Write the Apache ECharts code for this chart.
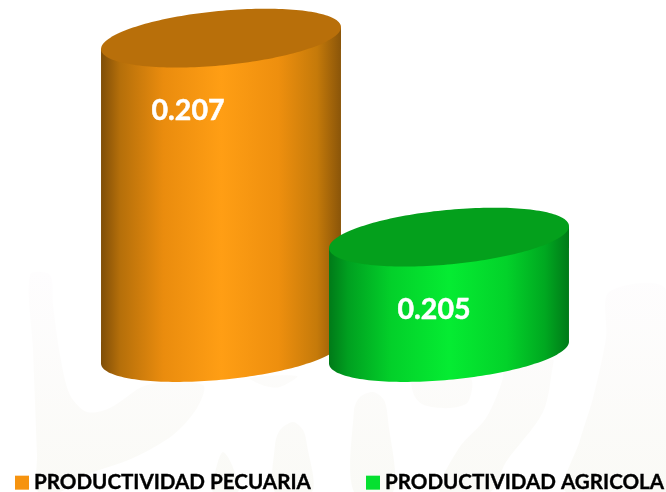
<!DOCTYPE html>
<html>
<head>
<meta charset="utf-8">
<style>html,body{margin:0;padding:0;background:#fff}#c{width:666px;height:492px}</style>
<script src="https://cdn.jsdelivr.net/npm/echarts@6/dist/echarts.min.js"></script>
</head>
<body>
<div id="c"></div>
<script>
const categories = ['PECUARIA', 'AGRICOLA'];
const seriesNames = ['PRODUCTIVIDAD PECUARIA', 'PRODUCTIVIDAD AGRICOLA'];
const seriesValues = [0.207, 0.205];
const axisMin = 0.20384, axisMax = 0.2072;

const FONT = 'Lato, "Open Sans", sans-serif';
const A = 120.5, B = 27.2, TH = -5.5 * Math.PI / 180;
const TR = Math.atan2(-B * Math.sin(TH), A * Math.cos(TH));
function ell(c, t) {
  return [c[0] + A * Math.cos(t) * Math.cos(TH) - B * Math.sin(t) * Math.sin(TH),
          c[1] + A * Math.cos(t) * Math.sin(TH) + B * Math.sin(t) * Math.cos(TH)];
}
function arc(c, t0, t1, n) {
  const p = [];
  for (let i = 0; i <= n; i++) p.push(ell(c, t0 + (t1 - t0) * i / n));
  return p;
}
function grad(stops) {
  return new echarts.graphic.LinearGradient(0, 0, 1, 0, stops.map(s => ({offset: s[0], color: s[1]})));
}
const looks = [
  {swatch: '#f6930f', lid: '#b86f0a', label: [-33, 73], stops: [[0,'#7f4e08'],[0.08,'#b56f0a'],[0.26,'#ea8c0e'],[0.5,'#ff9e14'],[0.74,'#ee8f0e'],[0.9,'#c57a0a'],[1,'#8a5509']]},
  {swatch: '#05e030', lid: '#04a01c', label: [-15, 73], stops: [[0,'#007a18'],[0.08,'#00a020'],[0.26,'#03d02a'],[0.5,'#05ec32'],[0.74,'#03d22a'],[0.9,'#00a820'],[1,'#007a18']]}
];
function render(look) {
  return function (params, api) {
    const top = api.coord([api.value(0), api.value(1)]);
    const bot = api.coord([api.value(0), axisMin]);
    const body = arc(bot, TR, TR + Math.PI, 90).concat([ell(top, TR + Math.PI), ell(top, TR)]);
    return {type: 'group', children: [
      {type: 'polygon', shape: {points: body}, style: {fill: grad(look.stops)}},
      {type: 'polygon', shape: {points: arc(top, 0, Math.PI * 2, 180)}, style: {fill: look.lid}},
      {type: 'text', x: top[0] + look.label[0], y: top[1] + look.label[1],
       style: {text: seriesValues[api.value(0)].toFixed(3), fill: '#fff', stroke: '#fff', lineWidth: 0.5, font: 'bold 28.5px ' + FONT, align: 'center', verticalAlign: 'middle'}}
    ]};
  };
}
/* faint background watermark */
const wmShapes = [
  [[30,275],[50,275],[53,305],[60,355],[70,395],[87,412],[110,408],[147,385],[203,385],[197,408],[173,435],[133,458],[87,475],[60,492],[38,492],[37,455],[33,350]],
  [[213,492],[217,465],[223,452],[232,465],[238,492]],
  [[250,378],[265,386],[280,387],[297,376]],
  [[275,492],[275,445],[280,430],[293,422],[303,430],[307,445],[312,492]],
  [[354,492],[354,410],[360,397],[373,392],[384,400],[388,420],[393,492]],
  [[413,378],[414,395],[424,405],[450,408],[468,402],[470,378]],
  [[503,360],[503,378],[486,418],[459,448],[440,492],[490,492],[506,462],[543,412],[553,365],[553,360]],
  [[609,292],[666,290],[666,492],[566,492],[580,440],[593,398],[606,338]]
];
const wmFill = new echarts.graphic.LinearGradient(0, 270, 0, 492, [{offset: 0, color: '#fefdfe'}, {offset: 1, color: '#fafaf6'}], true);

const chart = echarts.init(document.getElementById('c'), null, {renderer: 'canvas'});
chart.setOption({
  animation: false,
  backgroundColor: '#ffffff',
  graphic: wmShapes.map(p => ({type: 'polygon', z: 0, silent: true, shape: {points: p, smooth: 0.3}, style: {fill: wmFill}})),
  grid: {left: 107, width: 456, top: 18.2, height: 334.3},
  xAxis: {type: 'category', data: categories, show: false},
  yAxis: {type: 'value', min: axisMin, max: axisMax, show: false},
  legend: {
    left: 15, top: 472, padding: 0, itemWidth: 14, itemHeight: 14, itemGap: 55, icon: 'rect',
    data: seriesNames,
    textStyle: {color: '#000', fontFamily: FONT, fontWeight: 'bold', fontSize: 20.6, textBorderColor: '#000', textBorderWidth: 0.35}
  },
  series: seriesNames.map((n, i) => ({
    name: n, type: 'custom', coordinateSystem: 'cartesian2d', clip: false, z: 3,
    itemStyle: {color: looks[i].swatch},
    encode: {x: 0, y: 1},
    data: [[i, seriesValues[i]]],
    renderItem: render(looks[i])
  }))
});
</script>
</body>
</html>
